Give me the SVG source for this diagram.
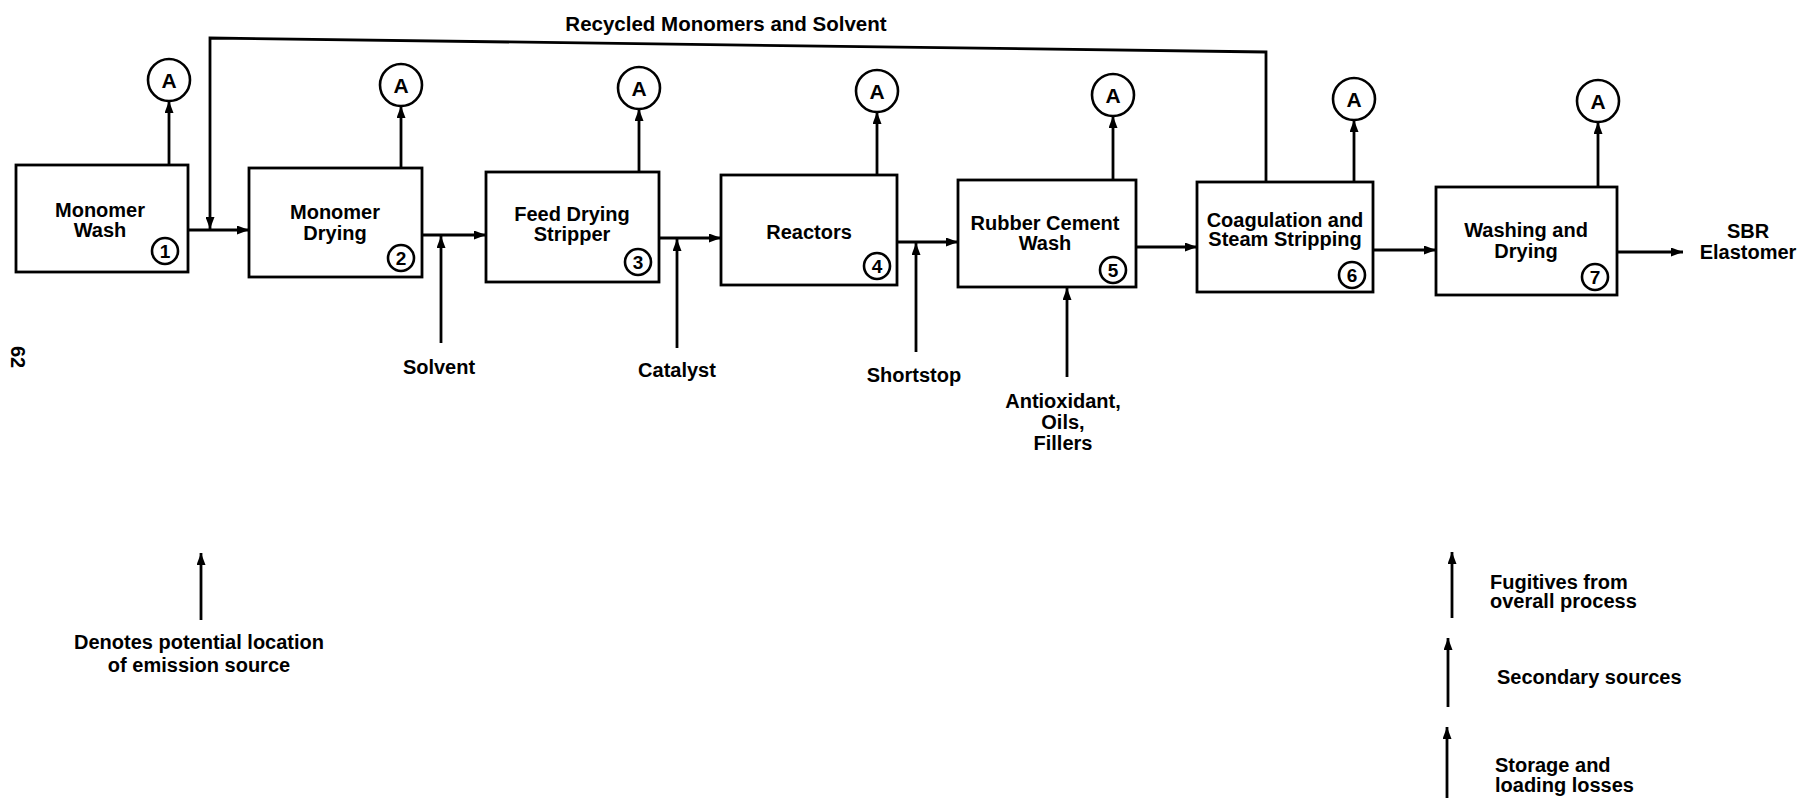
<svg xmlns="http://www.w3.org/2000/svg" width="1803" height="798" viewBox="0 0 1803 798">
<style>
.box{fill:#fff;stroke:#000;stroke-width:2.8}
.circ{fill:#fff;stroke:#000;stroke-width:2.6}
.ln{fill:none;stroke:#000;stroke-width:2.8}
text{font-family:"Liberation Sans",Arial,Helvetica,sans-serif;font-weight:bold;font-size:20px;fill:#000}
.c{text-anchor:middle}
.num{font-size:19px;text-anchor:middle}
.a{font-size:21px;text-anchor:middle}
</style>
<defs>
<marker id="ah" viewBox="0 0 12 9" refX="12" refY="4.5" markerWidth="13" markerHeight="9" markerUnits="userSpaceOnUse" orient="auto"><path d="M0,0 L12,4.5 L0,9 z" fill="#000"/></marker>
</defs>
<rect width="1803" height="798" fill="#fff"/>

<g id="connectors">
<path class="ln" d="M1266,182 L1266,52 L210,38 L210,229" marker-end="url(#ah)"/>
<line class="ln" x1="188" y1="230" x2="249" y2="230" marker-end="url(#ah)"/>
<line class="ln" x1="422" y1="235" x2="486" y2="235" marker-end="url(#ah)"/>
<line class="ln" x1="659" y1="238" x2="721" y2="238" marker-end="url(#ah)"/>
<line class="ln" x1="897" y1="242" x2="958" y2="242" marker-end="url(#ah)"/>
<line class="ln" x1="1136" y1="247" x2="1197" y2="247" marker-end="url(#ah)"/>
<line class="ln" x1="1373" y1="250" x2="1436" y2="250" marker-end="url(#ah)"/>
<line class="ln" x1="1617" y1="252" x2="1683" y2="252" marker-end="url(#ah)"/>
<line class="ln" x1="441" y1="343" x2="441" y2="236" marker-end="url(#ah)"/>
<line class="ln" x1="677" y1="348" x2="677" y2="239" marker-end="url(#ah)"/>
<line class="ln" x1="916" y1="352" x2="916" y2="243" marker-end="url(#ah)"/>
<line class="ln" x1="1067" y1="377" x2="1067" y2="288" marker-end="url(#ah)"/>
<line class="ln" x1="169" y1="165" x2="169" y2="101" marker-end="url(#ah)"/>
<line class="ln" x1="401" y1="168" x2="401" y2="106" marker-end="url(#ah)"/>
<line class="ln" x1="639" y1="172" x2="639" y2="109" marker-end="url(#ah)"/>
<line class="ln" x1="877" y1="175" x2="877" y2="112" marker-end="url(#ah)"/>
<line class="ln" x1="1113" y1="180" x2="1113" y2="116" marker-end="url(#ah)"/>
<line class="ln" x1="1354" y1="182" x2="1354" y2="120" marker-end="url(#ah)"/>
<line class="ln" x1="1598" y1="187" x2="1598" y2="122" marker-end="url(#ah)"/>
</g>

<text id="recycle-label" class="c" x="726" y="31" style="font-size:20.5px">Recycled Monomers and Solvent</text>

<g id="node1">
<rect class="box" x="16" y="165" width="172" height="107"/>
<text class="c" x="100" y="217">Monomer</text>
<text class="c" x="100" y="237">Wash</text>
<circle class="circ" cx="165" cy="251" r="13"/>
<text class="num" x="165" y="258">1</text>
</g>
<g id="node2">
<rect class="box" x="249" y="168" width="173" height="109"/>
<text class="c" x="335" y="219">Monomer</text>
<text class="c" x="335" y="240">Drying</text>
<circle class="circ" cx="401" cy="258" r="13"/>
<text class="num" x="401" y="265">2</text>
</g>
<g id="node3">
<rect class="box" x="486" y="172" width="173" height="110"/>
<text class="c" x="572" y="221">Feed Drying</text>
<text class="c" x="572" y="241">Stripper</text>
<circle class="circ" cx="638" cy="262" r="13"/>
<text class="num" x="638" y="269">3</text>
</g>
<g id="node4">
<rect class="box" x="721" y="175" width="176" height="110"/>
<text class="c" x="809" y="239">Reactors</text>
<circle class="circ" cx="877" cy="266" r="13"/>
<text class="num" x="877" y="273">4</text>
</g>
<g id="node5">
<rect class="box" x="958" y="180" width="178" height="107"/>
<text class="c" x="1045" y="230">Rubber Cement</text>
<text class="c" x="1045" y="250">Wash</text>
<circle class="circ" cx="1113" cy="270" r="13"/>
<text class="num" x="1113" y="277">5</text>
</g>
<g id="node6">
<rect class="box" x="1197" y="182" width="176" height="110"/>
<text class="c" x="1285" y="227">Coagulation and</text>
<text class="c" x="1285" y="246">Steam Stripping</text>
<circle class="circ" cx="1352" cy="275" r="13"/>
<text class="num" x="1352" y="282">6</text>
</g>
<g id="node7">
<rect class="box" x="1436" y="187" width="181" height="108"/>
<text class="c" x="1526" y="237">Washing and</text>
<text class="c" x="1526" y="258">Drying</text>
<circle class="circ" cx="1595" cy="277" r="13"/>
<text class="num" x="1595" y="284">7</text>
</g>

<g id="a1"><ellipse class="circ" cx="169" cy="80" rx="21" ry="21"/><text class="a" x="169" y="88">A</text></g>
<g id="a2"><ellipse class="circ" cx="401" cy="85" rx="21" ry="21"/><text class="a" x="401" y="93">A</text></g>
<g id="a3"><ellipse class="circ" cx="639" cy="88" rx="21" ry="21"/><text class="a" x="639" y="96">A</text></g>
<g id="a4"><ellipse class="circ" cx="877" cy="91" rx="21" ry="21"/><text class="a" x="877" y="99">A</text></g>
<g id="a5"><ellipse class="circ" cx="1113" cy="95" rx="21" ry="21"/><text class="a" x="1113" y="103">A</text></g>
<g id="a6"><ellipse class="circ" cx="1354" cy="99" rx="21" ry="21"/><text class="a" x="1354" y="107">A</text></g>
<g id="a7"><ellipse class="circ" cx="1598" cy="101" rx="21" ry="21"/><text class="a" x="1598" y="109">A</text></g>

<g id="output"><text class="c" x="1748" y="238">SBR</text><text class="c" x="1748" y="259">Elastomer</text></g>
<g id="in-solvent"><text class="c" x="439" y="374">Solvent</text></g>
<g id="in-catalyst"><text class="c" x="677" y="377">Catalyst</text></g>
<g id="in-shortstop"><text class="c" x="914" y="382">Shortstop</text></g>
<g id="in-antioxidant"><text class="c" x="1063" y="408">Antioxidant,</text><text class="c" x="1063" y="429">Oils,</text><text class="c" x="1063" y="450">Fillers</text></g>

<text id="page-number" x="18" y="357" class="c" transform="rotate(90 18 357)" dy="7">62</text>

<g id="legend">
<line class="ln" x1="201" y1="620" x2="201" y2="553" marker-end="url(#ah)"/>
<text class="c" x="199" y="649">Denotes potential location</text>
<text class="c" x="199" y="672">of emission source</text>
<line class="ln" x1="1452" y1="618" x2="1452" y2="552" marker-end="url(#ah)"/>
<text x="1490" y="589">Fugitives from</text>
<text x="1490" y="608">overall process</text>
<line class="ln" x1="1448" y1="707" x2="1448" y2="638" marker-end="url(#ah)"/>
<text x="1497" y="684">Secondary sources</text>
<line class="ln" x1="1447" y1="798" x2="1447" y2="727" marker-end="url(#ah)"/>
<text x="1495" y="772">Storage and</text>
<text x="1495" y="792">loading losses</text>
</g>
</svg>
